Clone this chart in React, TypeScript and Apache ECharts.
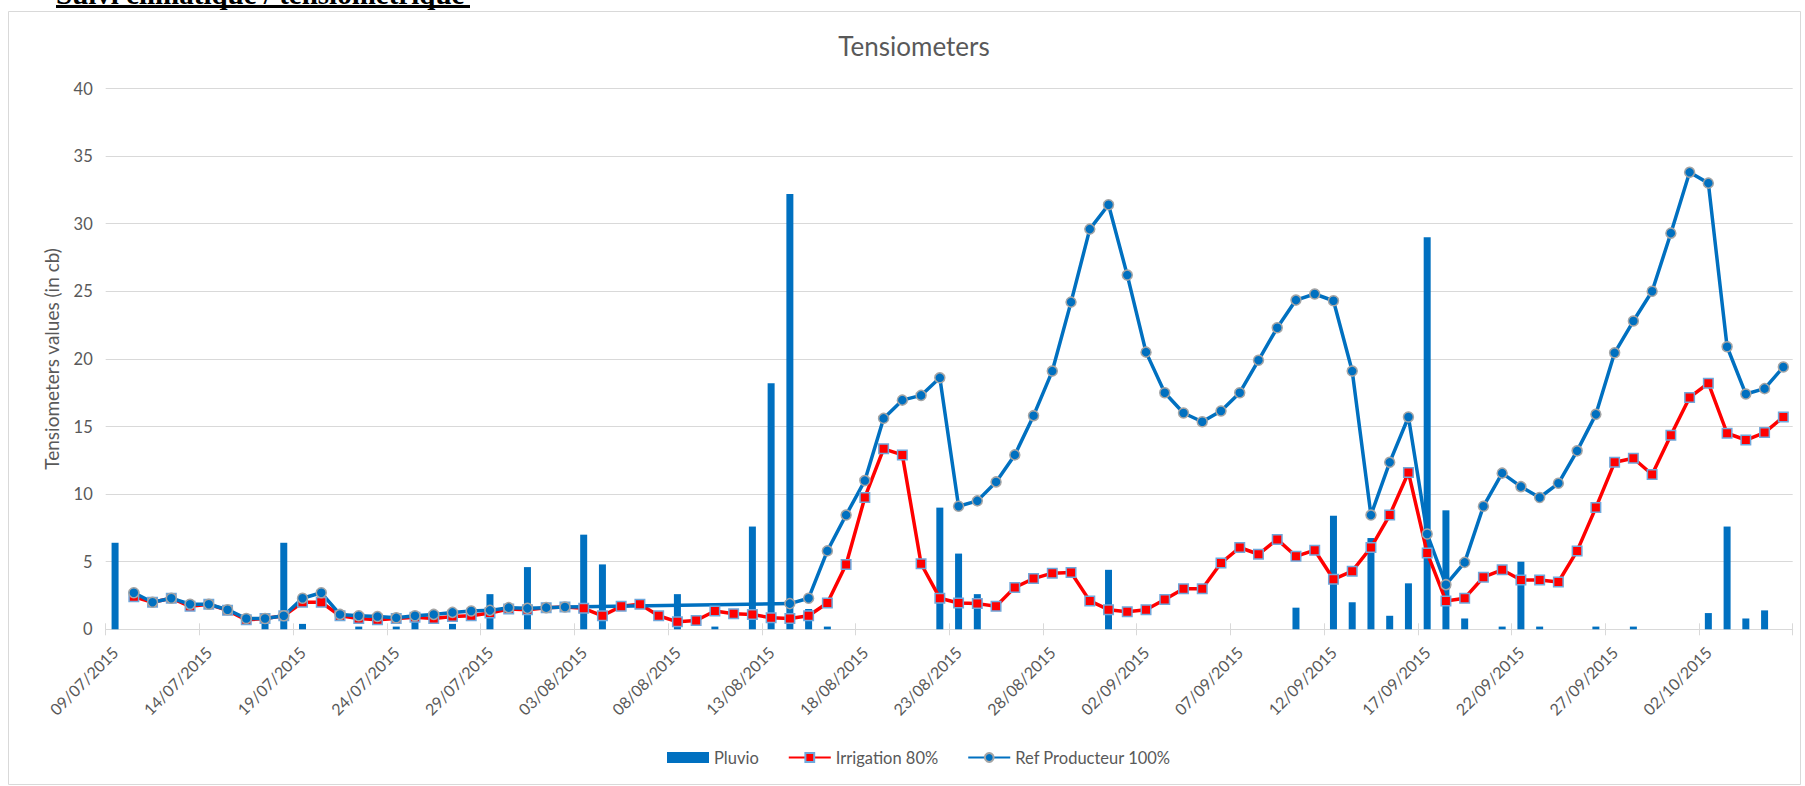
import React, { useEffect, useRef } from "react";
import * as echarts from "echarts";

const dates: string[] = [
  "09/07/2015","10/07/2015","11/07/2015","12/07/2015","13/07/2015","14/07/2015","15/07/2015","16/07/2015","17/07/2015","18/07/2015",
  "19/07/2015","20/07/2015","21/07/2015","22/07/2015","23/07/2015","24/07/2015","25/07/2015","26/07/2015","27/07/2015","28/07/2015",
  "29/07/2015","30/07/2015","31/07/2015","01/08/2015","02/08/2015","03/08/2015","04/08/2015","05/08/2015","06/08/2015","07/08/2015",
  "08/08/2015","09/08/2015","10/08/2015","11/08/2015","12/08/2015","13/08/2015","14/08/2015","15/08/2015","16/08/2015","17/08/2015",
  "18/08/2015","19/08/2015","20/08/2015","21/08/2015","22/08/2015","23/08/2015","24/08/2015","25/08/2015","26/08/2015","27/08/2015",
  "28/08/2015","29/08/2015","30/08/2015","31/08/2015","01/09/2015","02/09/2015","03/09/2015","04/09/2015","05/09/2015","06/09/2015",
  "07/09/2015","08/09/2015","09/09/2015","10/09/2015","11/09/2015","12/09/2015","13/09/2015","14/09/2015","15/09/2015","16/09/2015",
  "17/09/2015","18/09/2015","19/09/2015","20/09/2015","21/09/2015","22/09/2015","23/09/2015","24/09/2015","25/09/2015","26/09/2015",
  "27/09/2015","28/09/2015","29/09/2015","30/09/2015","01/10/2015","02/10/2015","03/10/2015","04/10/2015","05/10/2015","06/10/2015",
];

const pluvio: number[] = [
  6.4, 0, 0, 0, 0, 0, 0, 0, 0.9, 6.4,
  0.4, 0, 0, 0.2, 0, 0.2, 0.9, 0, 0.4, 0,
  2.6, 0, 4.6, 0, 0, 7.0, 4.8, 0, 0, 0,
  2.6, 0, 0.2, 0, 7.6, 18.2, 32.2, 1.5, 0.2, 0,
  0, 0, 0, 0, 9.0, 5.6, 2.6, 0, 0, 0,
  0, 0, 0, 4.4, 0, 0, 0, 0, 0, 0,
  0, 0, 0, 1.6, 0, 8.4, 2.0, 6.75, 1.0, 3.4,
  29.0, 8.8, 0.8, 0, 0.2, 5.0, 0.2, 0, 0, 0.2,
  0, 0.2, 0, 0, 0, 1.2, 7.6, 0.8, 1.4, 0,
];

const irrigation80: (number | null)[] = [
  null, 2.4, 2.0, 2.3, 1.7, 1.85, 1.4, 0.7, 0.8, 1.0,
  2.0, 2.0, 1.0, 0.8, 0.7, 0.8, 0.9, 0.8, 0.95, 1.0,
  1.2, 1.5, 1.45, 1.6, 1.65, 1.55, 1.0, 1.7, 1.85, 1.0,
  0.55, 0.65, 1.35, 1.15, 1.1, 0.85, 0.8, 1.0, 1.95, 4.8,
  9.75, 13.35, 12.9, 4.85, 2.3, 1.95, 1.9, 1.7, 3.1, 3.75,
  4.15, 4.2, 2.1, 1.45, 1.3, 1.45, 2.2, 3.0, 3.0, 4.9,
  6.05, 5.55, 6.65, 5.4, 5.85, 3.7, 4.3, 6.05, 8.45, 11.6,
  5.65, 2.1, 2.3, 3.85, 4.4, 3.65, 3.65, 3.5, 5.8, 9.0,
  12.35, 12.65, 11.45, 14.35, 17.15, 18.2, 14.5, 14.0, 14.55, 15.7,
];

const refProducteur: (number | null)[] = [
  null, 2.7, 2.0, 2.3, 1.85, 1.85, 1.45, 0.8, 0.8, 1.0,
  2.3, 2.7, 1.1, 1.0, 0.95, 0.85, 1.0, 1.1, 1.25, 1.35,
  1.4, 1.6, 1.55, 1.6, 1.65, null, null, null, null, null,
  null, null, null, null, null, null, 1.9, 2.3, 5.8, 8.45,
  11.0, 15.6, 16.95, 17.3, 18.6, 9.1, 9.5, 10.9, 12.9, 15.8,
  19.1, 24.2, 29.6, 31.4, 26.2, 20.5, 17.5, 16.0, 15.35, 16.15,
  17.5, 19.9, 22.3, 24.35, 24.8, 24.3, 19.1, 8.45, 12.35, 15.7,
  7.05, 3.3, 4.95, 9.1, 11.55, 10.55, 9.75, 10.8, 13.2, 15.9,
  20.45, 22.8, 25.0, 29.3, 33.8, 33.0, 20.9, 17.4, 17.8, 19.4,
];

const seriesNames = ["Pluvio", "Irrigation 80%", "Ref Producteur 100%"];

const FONT = "Lato";
const GRAY = "#595959";
const GRID = "#d9d9d9";

export default function App() {
  const ref = useRef<HTMLDivElement>(null);

  useEffect(() => {
    if (!ref.current) return;
    const chart = echarts.init(ref.current, undefined, { renderer: "svg" });
    chart.setOption({
      animation: false,
      backgroundColor: "#ffffff",
      graphic: [
        {
          type: "rect",
          shape: { x: 8.5, y: 11.5, width: 1792, height: 773 },
          style: { fill: "none", stroke: GRID, lineWidth: 1 },
          silent: true,
        },
        {
          type: "text",
          x: 56,
          y: -6,
          style: {
            text: "Suivi climatique / tensiométrique",
            font: 'bold 29px "Liberation Serif"',
            fill: "#000000",
            textVerticalAlign: "middle",
          },
        },
        {
          type: "rect",
          shape: { x: 56, y: 5, width: 414, height: 3 },
          style: { fill: "#000000" },
        },
        {
          type: "text",
          x: 914,
          y: 46,
          style: {
            text: "Tensiometers",
            font: `26px ${FONT}`,
            fill: GRAY,
            textAlign: "center",
            textVerticalAlign: "middle",
          },
        },
      ],
      grid: {
        left: 105.7,
        right: 12.3,
        top: 88.5,
        bottom: 156.7,
        containLabel: false,
        outerBoundsMode: "none",
      },
      legend: {
        left: 662,
        top: 744,
        itemWidth: 42,
        itemHeight: 11,
        itemGap: 29,
        textStyle: { fontFamily: FONT, fontSize: 16.5, color: GRAY },
        data: [
          { name: seriesNames[0], icon: "rect" },
          { name: seriesNames[1] },
          { name: seriesNames[2] },
        ],
      },
      xAxis: [
        {
          type: "category",
          data: dates,
          boundaryGap: true,
          axisLine: { show: true, lineStyle: { color: GRID, width: 1 } },
          axisTick: { show: true, interval: 4, length: 6, lineStyle: { color: GRID } },
          axisLabel: {
            interval: 4,
            rotate: 45,
            margin: 20,
            fontFamily: FONT,
            fontSize: 16,
            color: GRAY,
          },
          splitLine: { show: false },
        },
        {
          type: "category",
          data: dates,
          boundaryGap: true,
          position: "bottom",
          axisLine: { show: false },
          axisTick: { show: true, inside: true, interval: 4, length: 6, lineStyle: { color: GRID } },
          axisLabel: { show: false },
          splitLine: { show: false },
        },
      ],
      yAxis: {
        type: "value",
        min: 0,
        max: 40,
        interval: 5,
        name: "Tensiometers values (in cb)",
        nameLocation: "middle",
        nameGap: 45,
        nameTextStyle: { fontFamily: FONT, fontSize: 19, color: GRAY },
        axisLine: { show: false },
        axisTick: { show: false },
        axisLabel: { margin: 13, fontFamily: FONT, fontSize: 16.5, color: GRAY },
        splitLine: { lineStyle: { color: GRID, width: 1 } },
      },
      series: [
        {
          name: seriesNames[0],
          type: "bar",
          data: pluvio,
          barWidth: 7,
          itemStyle: { color: "#0070C0" },
        },
        {
          name: seriesNames[1],
          type: "line",
          data: irrigation80,
          symbol: "rect",
          symbolSize: 9.5,
          showAllSymbol: true,
          lineStyle: { color: "#FF0000", width: 3.5 },
          itemStyle: { color: "#FF0000", borderColor: "#6FA8DC", borderWidth: 1.5 },
        },
        {
          name: seriesNames[2],
          type: "line",
          data: refProducteur,
          connectNulls: true,
          symbol: "circle",
          symbolSize: 10,
          showAllSymbol: true,
          lineStyle: { color: "#0070C0", width: 3.5 },
          itemStyle: { color: "#0070C0", borderColor: "#A5A5A5", borderWidth: 1.5 },
        },
      ],
    });
    return () => chart.dispose();
  }, []);

  return (
    <div
      ref={ref}
      style={{ position: "absolute", left: 0, top: 0, width: 1805, height: 786 }}
    />
  );
}
